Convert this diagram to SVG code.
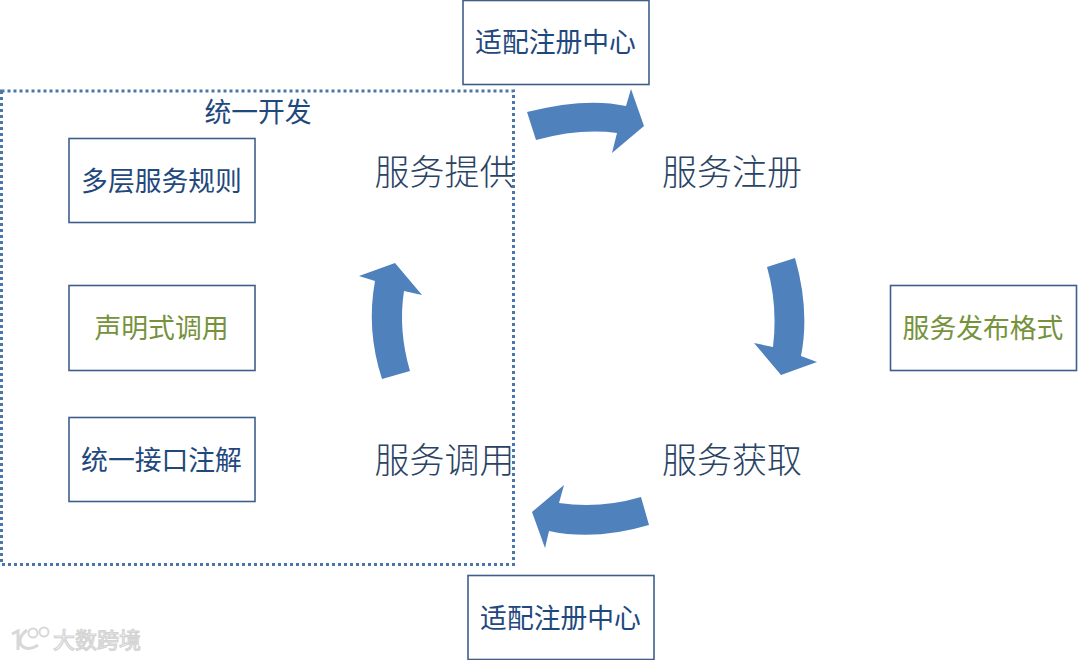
<svg xmlns="http://www.w3.org/2000/svg" width="1080" height="660" viewBox="0 0 1080 660">
<style>
text{font-family:"Noto Sans CJK SC","Noto Sans",sans-serif;text-anchor:middle}
.box{fill:#fff;stroke:#3f5f8a;stroke-width:1.6}
.t{font-size:26.8px;fill:#1f497d}
.g{fill:#76923c}
.step{font-size:35px;fill:#2a4365;font-family:"Liberation Serif","Noto Sans CJK SC",serif;font-weight:300}
.arr{fill:#4f81bd}
.wm{font-size:22px;fill:#fff;stroke:#d4d4d4;stroke-width:1.2}
.logo{fill:none;stroke:#d8d8d8;stroke-width:3}
</style>
<rect width="1080" height="660" fill="#fff"/>
<g id="group-unified">
<rect x="1.5" y="91" width="512" height="473.500" fill="none" stroke="#4a76a8" stroke-width="3" stroke-dasharray="3 3"/>
<text class="t" x="258" y="122">统一开发</text>
</g>
<g id="connectors">
<path class="arr" d="M527 112Q586 97 626 106L631 89L644 126L612 153L617 133Q580 128 536 140Z"/>
<path class="arr" d="M767 267L795 258Q810 310 801 356L817 362L781 375L754 343L773 347Q778 305 767 267Z"/>
<path class="arr" d="M641 497L649 525Q595 541 549 531L545 548L532 512L564 485L559 503Q600 509 641 497Z"/>
<path class="arr" d="M382 379L410 371Q398 330 404 291L422 295L395 263L359 276L375 281Q366 330 382 379Z"/>
</g>
<g id="node-registry-top"><rect class="box" x="463" y="0.500" width="186" height="84"/><text class="t" x="555.500" y="52">适配注册中心</text></g>
<g id="node-rules"><rect class="box" x="69" y="138.500" width="186" height="84"/><text class="t" x="161.500" y="191">多层服务规则</text></g>
<g id="node-declarative"><rect class="box" x="69" y="285.500" width="186" height="85"/><text class="t g" x="161.500" y="338">声明式调用</text></g>
<g id="node-interface"><rect class="box" x="69" y="417.500" width="186" height="84"/><text class="t" x="161.500" y="470">统一接口注解</text></g>
<g id="node-format"><rect class="box" x="890.500" y="285.500" width="186" height="85"/><text class="t g" x="983" y="338">服务发布格式</text></g>
<g id="node-registry-bottom"><rect class="box" x="468" y="575.500" width="186" height="84"/><text class="t" x="560.500" y="628">适配注册中心</text></g>
<g id="node-provide"><text class="step" x="444.500" y="185">服务提供</text></g>
<g id="node-register"><text class="step" x="732" y="185">服务注册</text></g>
<g id="node-fetch"><text class="step" x="732" y="473">服务获取</text></g>
<g id="node-invoke"><text class="step" x="444.500" y="473">服务调用</text></g>
<g id="watermark">
<path class="logo" d="M12 634L18 631V650M27 630Q17 638 21 645Q27 652 38 645"/>
<circle class="logo" stroke-width="2" cx="33" cy="633" r="4.500" style="stroke-width:2"/>
<circle class="logo" cx="44" cy="632" r="4.500" style="stroke-width:2"/>
<text class="wm" x="97" y="648">大数跨境</text>
</g>
</svg>
